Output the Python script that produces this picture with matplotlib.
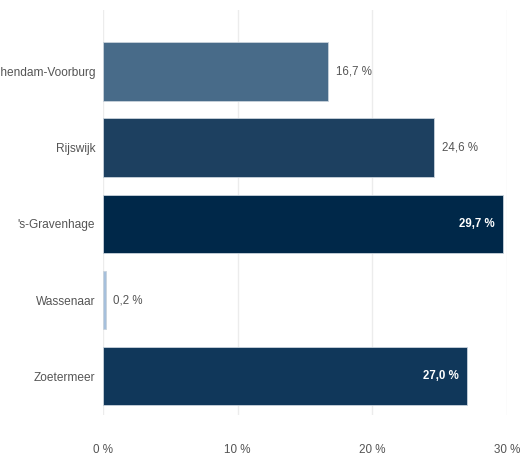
import matplotlib
matplotlib.use("Agg")
import matplotlib.pyplot as plt

gemeenten = ["Leidschendam-Voorburg", "Rijswijk", "'s-Gravenhage", "Wassenaar", "Zoetermeer"]
aandeel = [16.7, 24.6, 29.7, 0.2, 27.0]
kleuren = ["#486b89", "#1d4060", "#002849", "#a6c0dc", "#10375a"]
label_binnen = [False, False, True, False, True]
x_ticks = [0, 10, 20, 30]
x_ticklabels = ["0 %", "10 %", "20 %", "30 %"]

plt.rcParams["font.family"] = ["Liberation Sans", "DejaVu Sans"]

W, H = 523, 457
fig = plt.figure(figsize=(W / 100, H / 100), dpi=100)
ax = fig.add_axes([103 / W, 1 - 415 / H, (507 - 103) / W, (415 - 10) / H])

pos = list(range(len(gemeenten)))
ax.barh(pos, aandeel, height=0.77, color=kleuren, edgecolor="#c9d3dc",
        linewidth=0.6, zorder=3)

for y, v, binnen in zip(pos, aandeel, label_binnen):
    tekst = f"{v:.1f} %".replace(".", ",")
    if binnen:
        ax.annotate(tekst, (v, y), xytext=(-6, 0), textcoords="offset points",
                    ha="right", va="center", fontsize=8.3, color="white",
                    fontweight="bold", zorder=4)
    else:
        ax.annotate(tekst, (v, y), xytext=(5.5, 0), textcoords="offset points",
                    ha="left", va="center", fontsize=8.3, color="#555555", zorder=4)

ax.set_xlim(0, 30)
ax.set_ylim(4.51, -0.81)
ax.set_yticks(pos)
ax.set_yticklabels(gemeenten, fontsize=8.6, color="#555555")
ax.set_xticks(x_ticks)
ax.set_xticklabels(x_ticklabels, fontsize=8.4, color="#555555")
ax.tick_params(axis="y", length=0, pad=5.5)
ax.tick_params(axis="x", length=0, pad=21)
ax.grid(axis="x", color="#ececec", linewidth=1, zorder=0)
for s in ax.spines.values():
    s.set_visible(False)

fig.savefig("out.png", dpi=100)
